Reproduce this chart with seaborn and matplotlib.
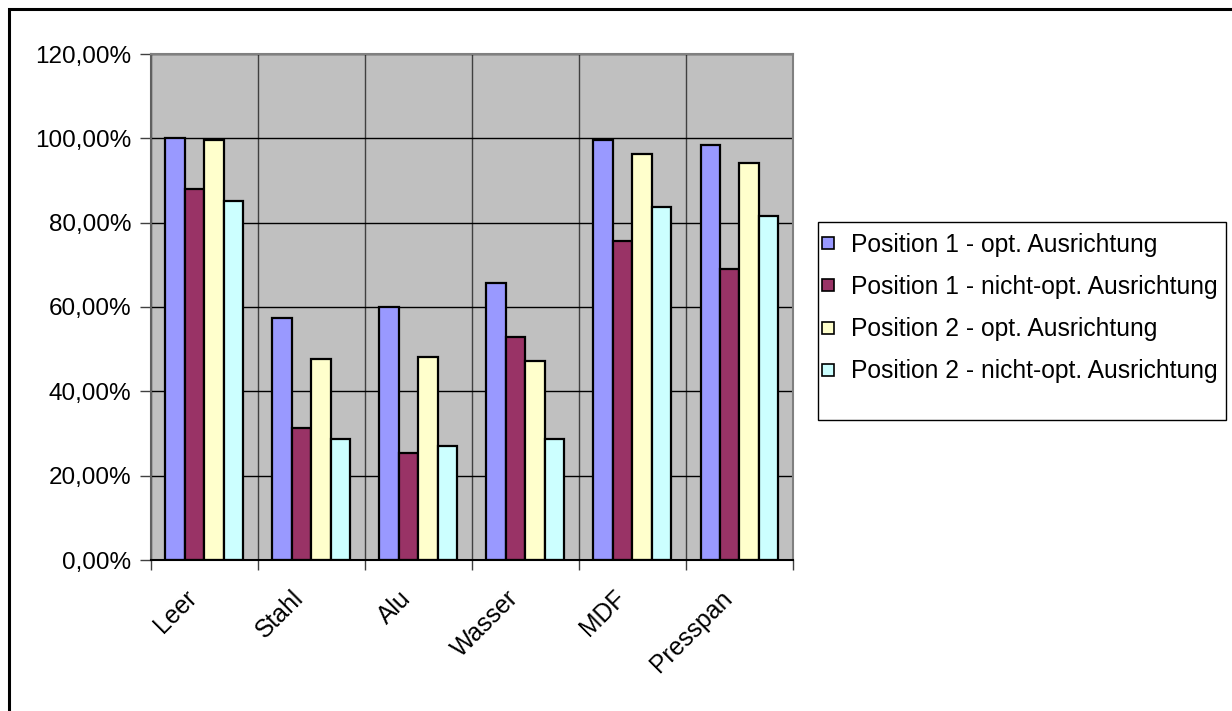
import matplotlib
matplotlib.use("Agg")
import matplotlib.pyplot as plt
import matplotlib.ticker as mticker
import matplotlib.transforms as mtransforms
from matplotlib.lines import Line2D
from matplotlib.patches import Rectangle
import seaborn as sns
import pandas as pd

# Transmission values per material and antenna configuration (fractions)
categories = ["Leer", "Stahl", "Alu", "Wasser", "MDF", "Presspan"]
series_names = [
    "Position 1 - opt. Ausrichtung",
    "Position 1 - nicht-opt. Ausrichtung",
    "Position 2 - opt. Ausrichtung",
    "Position 2 - nicht-opt. Ausrichtung",
]
pos1_opt = [1.000, 0.574, 0.600, 0.656, 0.995, 0.985]
pos1_nicht_opt = [0.879, 0.313, 0.254, 0.530, 0.756, 0.691]
pos2_opt = [0.995, 0.477, 0.482, 0.471, 0.963, 0.942]
pos2_nicht_opt = [0.852, 0.286, 0.270, 0.288, 0.836, 0.815]
colors = ["#9999FF", "#993366", "#FFFFCC", "#CCFFFF"]
y_ticks = [0.0, 0.2, 0.4, 0.6, 0.8, 1.0, 1.2]

series_values = [pos1_opt, pos1_nicht_opt, pos2_opt, pos2_nicht_opt]
rows = []
for name, vals in zip(series_names, series_values):
    for cat, v in zip(categories, vals):
        rows.append({"Material": cat, "Serie": name, "Wert": v})
df = pd.DataFrame(rows)

sns.set_theme(style="white")
plt.rcParams["font.family"] = ["Liberation Sans", "DejaVu Sans"]

W, H = 1232, 711
fig = plt.figure(figsize=(W / 100, H / 100), dpi=100)
fig.patch.set_facecolor("white")
ax = fig.add_axes([150.5 / W, 1 - 560 / H, (793 - 150.5) / W, (560 - 54) / H])
ax.set_facecolor("#C0C0C0")

sns.barplot(
    data=df, x="Material", y="Wert", hue="Serie",
    order=categories, hue_order=series_names,
    palette=colors, width=4 / 5.5, gap=0,
    edgecolor="black", linewidth=1.6, ax=ax, legend=False,
    errorbar=None, saturation=1,
)

ax.set_xlim(-0.5, len(categories) - 0.5)
ax.set_ylim(0, 1.2)
ax.set_yticks(y_ticks)
ax.yaxis.set_major_formatter(
    mticker.FuncFormatter(lambda v, _: f"{v * 100:.2f}%".replace(".", ","))
)
ax.set_xlabel("")
ax.set_ylabel("")

# Horizontal grid lines at the value ticks, vertical ones between categories
ax.set_axisbelow(True)
ax.yaxis.grid(True, color="black", linewidth=1.0)
ax.set_xticks([i - 0.5 for i in range(len(categories) + 1)], minor=True)
ax.xaxis.grid(True, which="minor", color="#404040", linewidth=1.0)
ax.xaxis.grid(False, which="major")

ax.tick_params(axis="y", which="major", direction="out", length=8, width=1,
               color="#404040", labelsize=17.5, labelcolor="black", pad=6, left=True)
ax.tick_params(axis="x", which="major", length=0, labelsize=17.8,
               labelcolor="black", pad=14)
ax.tick_params(axis="x", which="minor", direction="out", length=7, width=1,
               color="#404040", bottom=True)
shift = mtransforms.ScaledTranslation(-11 / 100, -15 / 100, fig.dpi_scale_trans)
for lbl in ax.get_xticklabels():
    lbl.set_rotation(45)
    lbl.set_ha("right")
    lbl.set_va("center")
    lbl.set_rotation_mode("anchor")
    lbl.set_transform(lbl.get_transform() + shift)

for side in ["top", "right"]:
    ax.spines[side].set_color("#808080")
    ax.spines[side].set_linewidth(1.5)
ax.spines["left"].set_color("#606060")
ax.spines["left"].set_linewidth(1.5)
ax.spines["bottom"].set_color("black")
ax.spines["bottom"].set_linewidth(1.5)

# Legend entries with a separately drawn box around them
handles = [
    Line2D([0], [0], linestyle="none", marker="s", markersize=9,
           markerfacecolor=c, markeredgecolor="black", markeredgewidth=1.2)
    for c in colors
]
leg_fs = 17.7
leg = fig.legend(
    handles, series_names, loc="upper left",
    bbox_to_anchor=(820.6 / W, 1 - 233 / H), bbox_transform=fig.transFigure,
    fontsize=leg_fs, frameon=False,
    handlelength=0.6, handletextpad=0.64, labelspacing=0.735,
    borderpad=0, borderaxespad=0,
)
for t in leg.get_texts():
    t.set_color("black")
fig.add_artist(Rectangle((818 / W, 1 - 420 / H), (1226 - 818) / W, (420 - 222) / H,
                         transform=fig.transFigure, facecolor="none",
                         edgecolor="black", linewidth=1.0))

# Outer chart border
fig.add_artist(Rectangle((8.5 / W, -0.1), 1.2, 1.1 - 8.5 / H,
                         transform=fig.transFigure, fill=False,
                         edgecolor="black", linewidth=2.2))

fig.savefig("out.png", dpi=100)
